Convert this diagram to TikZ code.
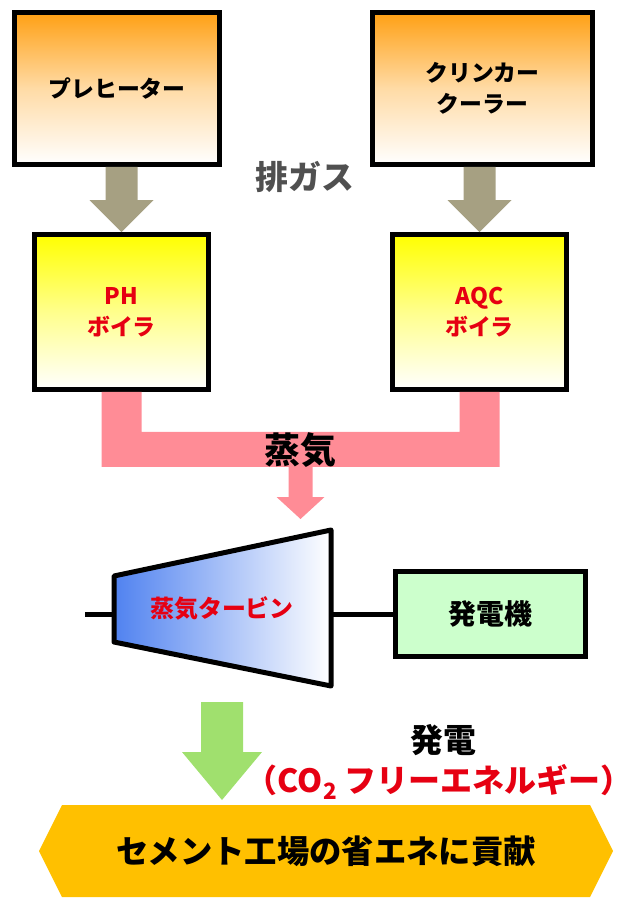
\documentclass[tikz,border=0pt]{standalone}
\usepackage{fontspec}
\setmainfont{Noto Sans CJK JP}
\usepackage{tikz}
\usetikzlibrary{calc}

\definecolor{hotorange}{RGB}{255,160,20}
\definecolor{gasgray}{RGB}{166,160,130}
\definecolor{steampink}{RGB}{255,140,150}
\definecolor{turbblue}{RGB}{80,130,240}
\definecolor{genmint}{RGB}{204,255,204}
\definecolor{powgreen}{RGB}{160,224,110}
\definecolor{goalamber}{RGB}{255,192,0}
\definecolor{labred}{RGB}{230,0,18}
\definecolor{labgray}{RGB}{80,80,80}

% fat arrow: start, tip, shaft half width, head half width, head length, colour
\newcommand{\fatarrow}[6]{%
  \fill[#6] ($(#1)+(-#3,0)$) -- ($(#2)+(-#3,-#5)$) -- ($(#2)+(-#4,-#5)$) -- (#2)
    -- ($(#2)+(#4,-#5)$) -- ($(#2)+(#3,-#5)$) -- ($(#1)+(#3,0)$) -- cycle;}

\begin{document}
\begin{tikzpicture}[x=0.02cm,y=-0.02cm,
    kiln/.style={draw=black,line width=0.1cm,inner sep=0pt,
      top color=hotorange,bottom color=white,middle color=hotorange!38!white,minimum height=3.04cm,
      font=\bfseries\fontsize{13}{17.6}\selectfont,align=center},
    boiler/.style={draw=black,line width=0.1cm,inner sep=0pt,
      top color=yellow,bottom color=white,middle color=yellow!45!white,minimum width=3.5cm,minimum height=3.1cm,
      text=labred,font=\bfseries\fontsize{13}{17.6}\selectfont,align=center},
    shaft/.style={line width=0.1cm},
    big/.style={inner sep=0pt,font=\bfseries\fontsize{#1}{#1}\selectfont}]
		\useasboundingbox (0,0) rectangle (628,908);
		% Heat sources
		\node[kiln,minimum width=4.1cm] (pre) at (117,88.5) {プレヒーター};
		\node[kiln,minimum width=4.4cm] (clk) at (482.5,88.5) {クリンカー\\クーラー};
		\node[big=18.7,text=labgray] (gas) at (305,177) {排ガス};
		% Boilers
		\node[boiler] (phb) at (121.5,312) {PH\\ボイラ};
		\node[boiler] (aqc) at (479.5,312) {AQC\\ボイラ};
		% Exhaust gas arrows
		\coordinate (g1) at (phb.north |- pre.south);
		\coordinate (g2) at (aqc.north |- clk.south);
		\fatarrow{g1}{phb.north}{16}{32}{32}{gasgray}
		\fatarrow{g2}{aqc.north}{16}{32}{32}{gasgray}
		% Steam pipe
		\fill[steampink] ($(phb.south)+(-20,0)$) |- ($(aqc.south)+(20,75)$)
			-- ($(aqc.south)+(20,0)$) -- ($(aqc.south)+(-20,0)$)
			|- ($(phb.south)+(20,40)$) -- ($(phb.south)+(20,0)$) -- cycle;
		\node[big=20.4] (steam) at (300,450) {蒸気};
		\coordinate (mix) at ($(phb.south)!0.5!(aqc.south)+(0,75)$);
		\coordinate (tin) at (mix |- 0,519);
		\fatarrow{mix}{tin}{12}{24}{22}{steampink}
		% Turbine
		\coordinate (tA) at (114,576);
		\coordinate (tB) at (114,642);
		\coordinate (tC) at (331,686);
		\coordinate (tD) at (331,530);
		\draw[line width=0.1cm,line join=round,left color=turbblue,right color=white]
			(tA) -- (tB) -- (tC) -- (tD) -- cycle;
		\node[big=13.6,text=labred] (turb) at (222,608) {蒸気タービン};
		% Generator and shafts
		\node[draw=black,line width=0.1cm,fill=genmint,minimum width=3.8cm,minimum height=1.7cm,
			big=15.9] (gen) at (490.5,614) {発電機};
		\coordinate (shaftL) at (85,614);
		\draw[shaft] (shaftL) -- (shaftL -| tA);
		\draw[shaft] (gen.west -| tD) -- (gen.west);
		% Power output
		\coordinate (pw) at (222,702);
		\coordinate (pwtip) at (222,800);
		\fatarrow{pw}{pwtip}{21}{40}{48}{powgreen}
		\node[big=18.7] (power) at (443,740) {発電};
		\node[big=18.2,text=labred,anchor=east] (co2) at (617,782)
			{（CO\textsubscript{2} フリーエネルギー\makebox[0.5em][l]{）}};
		% Goal
		\fill[goalamber] (39,851) -- (62,805) -- (590,805) -- (613,851) -- (590,897) -- (62,897) -- cycle;
		\node[big=18.4] (goal) at (326,851) {セメント工場の省エネに貢献};
	\end{tikzpicture}
\end{document}
